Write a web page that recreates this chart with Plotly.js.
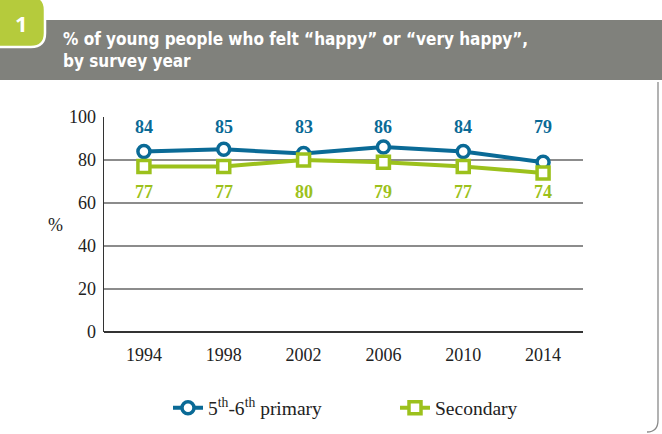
<!DOCTYPE html>
<html>
<head>
<meta charset="utf-8">
<script src="https://cdn.plot.ly/plotly-3.0.1.min.js"></script>
<style>html,body{margin:0;padding:0;background:#fff;}#chart{width:662px;height:434px;}</style>
</head>
<body>
<div id="chart"></div>
<script>
const years = ['1994', '1998', '2002', '2006', '2010', '2014'];
const primary = [84, 85, 83, 86, 84, 79];
const secondary = [77, 77, 80, 79, 77, 74];
const seriesNames = ['5<sup>th</sup>-6<sup>th</sup> primary', 'Secondary'];
const yTicks = [0, 20, 40, 60, 80, 100];
const titleText = '% of young people who felt \u201chappy\u201d or \u201cvery happy\u201d,<br>by survey year';

const W = 662, H = 434;
const L = 104, R = 583, T = 117, B = 332;
const px = x => (x - L) / (R - L);
const py = y => (B - y) / (B - T);

const blue = '#0a6a96';
const green = '#9cc11c';
const serif = 'Liberation Serif, serif';

const traces = [
  {
    x: years, y: primary, name: seriesNames[0], type: 'scatter', mode: 'lines+markers',
    line: {color: blue, width: 4},
    marker: {symbol: 'circle', size: 12, color: '#fff', line: {color: blue, width: 3.5}}
  },
  {
    x: years, y: secondary, name: seriesNames[1], type: 'scatter', mode: 'lines+markers',
    line: {color: green, width: 4},
    marker: {symbol: 'square', size: 12, color: '#fff', line: {color: green, width: 3.5}}
  }
];

const annotations = [];
years.forEach((yr, i) => {
  annotations.push({x: i, y: 95.3, xref: 'x', yref: 'y', text: '<b>' + primary[i] + '</b>',
    showarrow: false, font: {family: serif, size: 18, color: blue}, xanchor: 'center', yanchor: 'middle'});
  annotations.push({x: i, y: 65.1, xref: 'x', yref: 'y', text: '<b>' + secondary[i] + '</b>',
    showarrow: false, font: {family: serif, size: 18, color: green}, xanchor: 'center', yanchor: 'middle'});
});
annotations.push({x: px(55), y: py(225), xref: 'paper', yref: 'paper', text: '%', showarrow: false,
  font: {family: serif, size: 18, color: '#222'}, xanchor: 'center', yanchor: 'middle'});
annotations.push({x: px(61), y: py(50), xref: 'paper', yref: 'paper', text: '<b>' + titleText + '</b>',
  showarrow: false, align: 'left', xanchor: 'left', yanchor: 'middle',
  font: {family: 'DejaVu Sans Condensed, Liberation Sans Narrow, sans-serif', size: 17, color: '#fff'}});
annotations.push({x: px(21), y: py(23), xref: 'paper', yref: 'paper', text: '<b>1</b>', showarrow: false,
  xanchor: 'center', yanchor: 'middle', font: {family: 'Open Sans, sans-serif', size: 22, color: '#fff'}});

function P(x, y) { return px(x) + ',' + py(y); }
const tabPath = 'M' + P(-4, -4) + ' L' + P(31, -4) + ' Q' + P(45, -4) + ' ' + P(45, 10) +
  ' L' + P(45, 33) + ' Q' + P(45, 47) + ' ' + P(31, 47) + ' L' + P(-4, 47) + ' Z';
const borderPath = 'M' + P(658, 82) + ' L' + P(658, 420) + ' Q' + P(658, 432) + ' ' + P(647, 432);

const shapes = [
  {type: 'rect', xref: 'paper', yref: 'paper', x0: px(0), x1: px(662), y0: py(80), y1: py(20),
    fillcolor: '#80817c', line: {width: 0}, layer: 'below'},
  {type: 'path', xref: 'paper', yref: 'paper', path: tabPath, fillcolor: '#b5cb3c',
    line: {color: '#ffffff', width: 2.5}, layer: 'below'},
  {type: 'path', xref: 'paper', yref: 'paper', path: borderPath, line: {color: '#8a8a8a', width: 1.3}}
];

const layout = {
  width: W, height: H,
  margin: {l: L, r: W - R, t: T, b: H - B, pad: 0, autoexpand: false},
  paper_bgcolor: '#fff', plot_bgcolor: '#fff',
  showlegend: true,
  legend: {orientation: 'h', x: px(168), xanchor: 'left', y: py(408), yanchor: 'middle',
    font: {family: serif, size: 19.5, color: '#222'}, entrywidth: 182, entrywidthmode: 'pixels'},
  xaxis: {type: 'category', range: [-0.5, 5.5], showgrid: false, showline: false, zeroline: false,
    ticks: '', tickfont: {family: serif, size: 18, color: '#222'}, ticklabelstandoff: 10, fixedrange: true},
  yaxis: {range: [0, 100], tickvals: yTicks, showgrid: true, gridcolor: '#8c8c8c', gridwidth: 1.5,
    showline: true, linecolor: '#333', linewidth: 1.5, zeroline: true, zerolinecolor: '#333', zerolinewidth: 1.5,
    ticks: '', tickfont: {family: serif, size: 18, color: '#222'}, ticklabelstandoff: 3, fixedrange: true},
  annotations: annotations,
  shapes: shapes
};

Plotly.newPlot('chart', traces, layout, {displayModeBar: false, staticPlot: true});
</script>
</body>
</html>
